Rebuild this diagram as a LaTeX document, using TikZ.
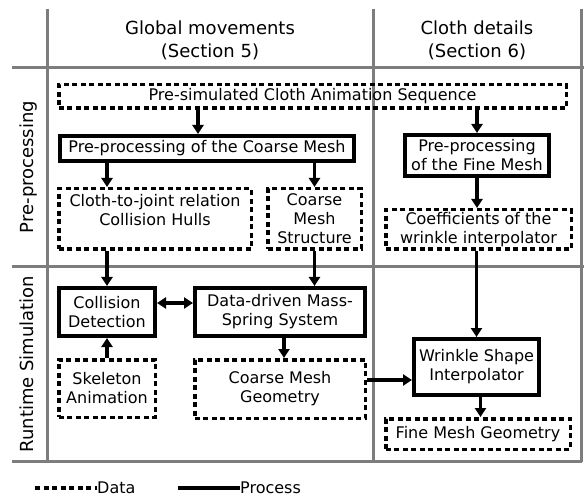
\documentclass[tikz,border=0pt]{standalone}
\usepackage{fontspec}
\setmainfont{DejaVu Sans}
\usetikzlibrary{arrows.meta}
\definecolor{tablegray}{RGB}{125,125,125}

\begin{document}
\begin{tikzpicture}[x=1pt,y=-1pt,
		proc/.style={draw,line width=4pt,align=center,inner sep=0pt,font=\fontsize{16}{19}\selectfont},
		data/.style={draw,line width=3.5pt,dash pattern=on 5pt off 3.5pt,align=center,inner sep=0pt,font=\fontsize{16}{19}\selectfont},
		flow/.style={line width=3.5pt,-{Triangle[length=9pt,width=11pt]}},
		flowboth/.style={line width=3.5pt,{Triangle[length=9pt,width=11pt]}-{Triangle[length=9pt,width=11pt]}},
		tableline/.style={draw=tablegray,line width=3pt},
		head/.style={align=center,font=\fontsize{18}{23}\selectfont}]
		\useasboundingbox (0,0) rectangle (584,497);

		% table
		\draw [tableline] (47,9) -- (47,462);
		\draw [tableline] (373,9) -- (373,462);
		\draw [tableline] (581,9) -- (581,462);
		\draw [tableline] (12,68) -- (584,68);
		\draw [tableline] (12,267) -- (584,267);
		\draw [tableline] (12,461) -- (582,461);

		\node [head] (global) at (210,40) {Global movements\\(Section 5)};
		\node [head] (details) at (477,40) {Cloth details\\(Section 6)};
		\node [head,rotate=90,anchor=base] (prerow) at (33,167) {Pre-processing};
		\node [head,rotate=90,anchor=base] (runrow) at (33,364) {Runtime Simulation};

		% pre-processing
		\node [data,minimum width=507.5pt,minimum height=23.5pt] (sequence) at (312.5,96.5) {Pre-simulated Cloth Animation Sequence};
		\node [proc,minimum width=294pt,minimum height=25pt] (coarsepre) at (207,148.5) {Pre-processing of the Coarse Mesh};
		\node [proc,minimum width=144pt,minimum height=41pt] (finepre) at (477,155.5) {Pre-processing\\of the Fine Mesh};
		\node [data,minimum width=192.5pt,minimum height=60.5pt] (relation) at (155,219) {Cloth-to-joint relation\\Collision Hulls\\\mbox{}};
		\node [data,minimum width=93.5pt,minimum height=60.5pt] (structure) at (314.5,219) {Coarse\\Mesh\\Structure};
		\node [data,minimum width=185.5pt,minimum height=39.5pt] (coeff) at (478.5,229.5) {Coefficients of the\\wrinkle interpolator};

		% runtime
		\node [proc,minimum width=96pt,minimum height=48pt] (collision) at (107,312) {Collision\\Detection};
		\node [proc,minimum width=170pt,minimum height=48pt] (massspring) at (280,312) {Data-driven Mass-\\Spring System};
		\node [data,minimum width=96.5pt,minimum height=57.5pt] (skeleton) at (107,388.5) {Skeleton\\Animation};
		\node [data,minimum width=170.5pt,minimum height=58.5pt] (coarsegeo) at (280,389) {Coarse Mesh\\Geometry};
		\node [proc,minimum width=125pt,minimum height=56pt] (wrinkle) at (476.5,367) {Wrinkle Shape\\Interpolator};
		\node [data,minimum width=184.5pt,minimum height=30.5pt] (finegeo) at (478,434) {Fine Mesh Geometry};

		\draw [flow] ([xshift=-9pt]coarsepre.north |- sequence.south) to ([xshift=-9pt]coarsepre.north);
		\draw [flow] (finepre.north |- sequence.south) to (finepre.north);
		\draw [flow] (coarsepre.south -| collision.north) to (relation.north -| collision.north);
		\draw [flow] (coarsepre.south -| structure.north) to (structure.north);
		\draw [flow] (finepre.south) to (finepre.south |- coeff.north);
		\draw [flow] (relation.south -| collision.north) to (collision.north);
		\draw [flow] (structure.south) to (structure.south |- massspring.north);
		\draw [flow] (wrinkle.north |- coeff.south) to (wrinkle.north);
		\draw [flowboth] ([yshift=9pt]collision.east) to ([yshift=9pt]collision.east -| massspring.west);
		\draw [flow] (skeleton.north) to (collision.south);
		\draw [flow] ([xshift=4pt]massspring.south) to ([xshift=4pt]coarsegeo.north);
		\coordinate (geoout) at ([yshift=9pt]coarsegeo.east);
		\draw [flow] (geoout) to (geoout -| wrinkle.west);
		\draw [flow] ([xshift=4pt]wrinkle.south) to ([xshift=4pt]wrinkle.south |- finegeo.north);

		% legend
		\coordinate (datakey) at (35,488);
		\node [anchor=west,inner sep=0pt,font=\fontsize{16}{19}\selectfont] (datatext) at (97,488) {Data};
		\draw [line width=3.5pt,dash pattern=on 5pt off 3.5pt] (datakey) -- (datatext.west);
		\coordinate (prockey) at (178,488);
		\node [anchor=west,inner sep=0pt,font=\fontsize{16}{19}\selectfont] (proctext) at (240,488) {Process};
		\draw [line width=4pt] (prockey) -- (proctext.west);
\end{tikzpicture}
\end{document}
